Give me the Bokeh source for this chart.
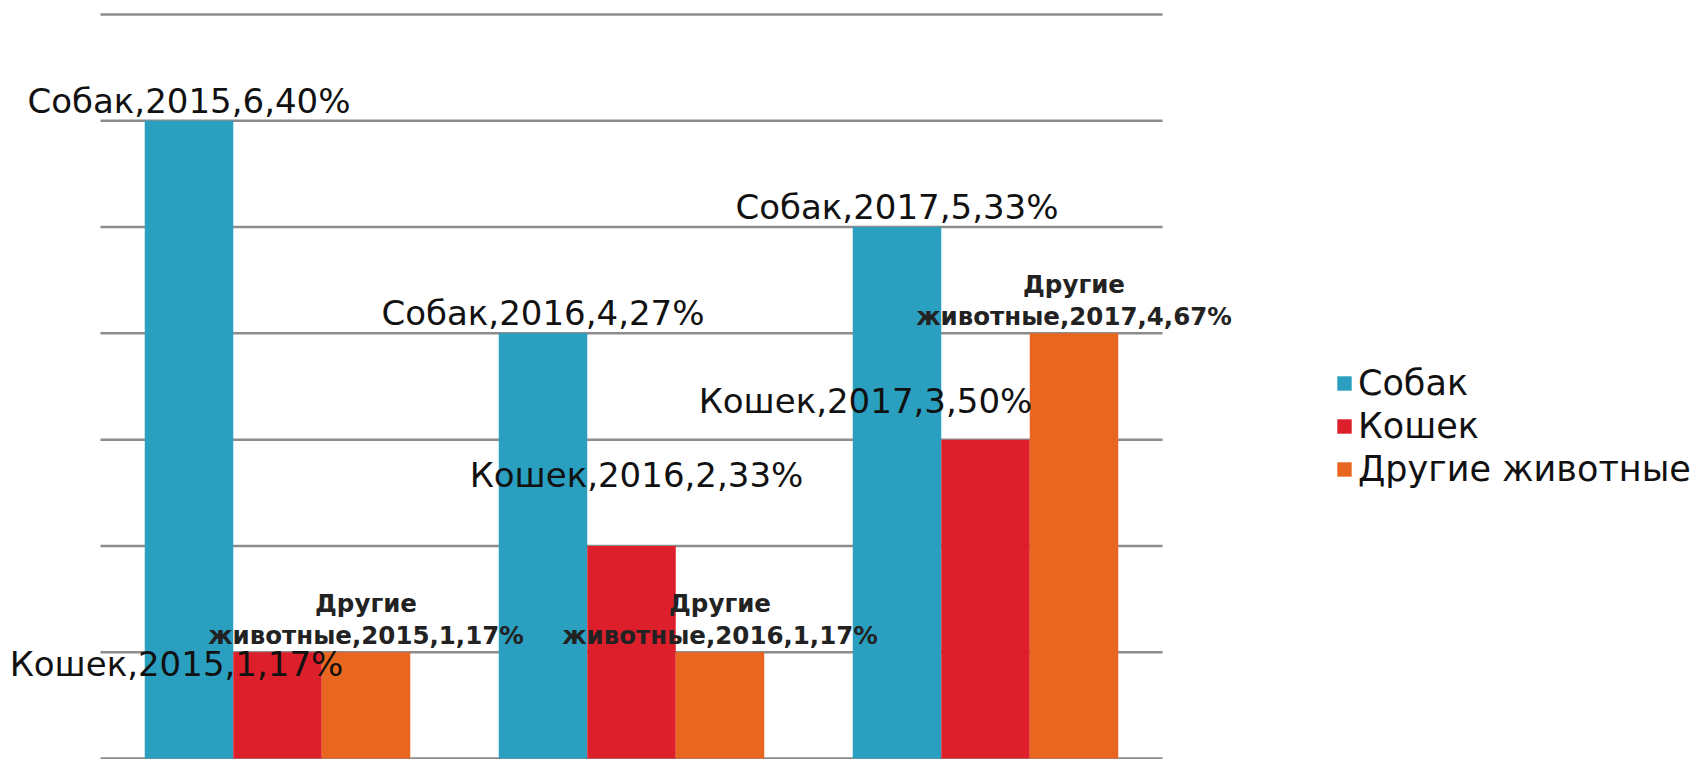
from bokeh.plotting import figure
from bokeh.models import (ColumnDataSource, Range1d, Legend, LegendItem, LabelSet)
from bokeh.core.properties import value
from bokeh.embed import file_html
from bokeh.resources import INLINE

# ---------------- data ----------------
years = ["2015", "2016", "2017"]
series = ["Собак", "Кошек", "Другие животные"]
dogs = [6, 4, 5]
cats = [1, 2, 3]
others = [1, 1, 4]
dogs_pct = [40, 27, 33]
cats_pct = [17, 33, 50]
others_pct = [17, 17, 67]
grid_ticks = [0, 1, 2, 3, 4, 5, 6, 7]

# ---------------- styles / label nudges (screen px) ----------------
colors = ["#2a9fbf", "#dc1f2a", "#e8661f"]
bar_width = 0.25
bar_offsets = [-0.25, 0.0, 0.25]
cats_dx = [-101, 5, -120]
cats_dy = [-24, 59, 27]

# category i occupies [i, i+1] on a linear scale; its centre is i + 0.5
centers = [i + 0.5 for i in range(len(years))]

src = ColumnDataSource(dict(
    year=years,
    x_dog=[c + bar_offsets[0] for c in centers],
    x_cat=[c + bar_offsets[1] for c in centers],
    x_oth=[c + bar_offsets[2] for c in centers],
    dogs=dogs, cats=cats, others=others,
    dog_lbl=[f"Собак,{y},{v},{p}%" for y, v, p in zip(years, dogs, dogs_pct)],
    cat_lbl=[f"Кошек,{y},{v},{p}%" for y, v, p in zip(years, cats, cats_pct)],
    oth_lbl1=["Другие" for _ in years],
    oth_lbl2=[f"животные,{y},{v},{p}%" for y, v, p in zip(years, others, others_pct)],
    cat_dx=cats_dx, cat_dy=cats_dy,
))

p = figure(x_range=Range1d(-0.2825, 4.4915), y_range=Range1d(-0.0094, 7.132),
           width=1690, height=759, output_backend="svg", toolbar_location=None,
           min_border_left=0, min_border_right=0, min_border_top=0, min_border_bottom=0)
p.outline_line_color = None
p.background_fill_color = "white"
p.xaxis.visible = False
p.yaxis.visible = False
p.xgrid.visible = False
p.ygrid.visible = False

# horizontal grid lines across the category area only
p.segment(x0=[0] * len(grid_ticks), x1=[len(years)] * len(grid_ticks),
          y0=grid_ticks, y1=grid_ticks, line_color="#8c8c8c", line_width=2.5)

renderers = []
for xf, f, c in zip(["x_dog", "x_cat", "x_oth"], ["dogs", "cats", "others"], colors):
    r = p.vbar(x=xf, top=f, width=bar_width, source=src, fill_color=c, line_color=None)
    renderers.append(r)

font = value("DejaVu Sans")
dog_labels = LabelSet(x="x_dog", y="dogs", text="dog_lbl", source=src,
                      text_align="center", text_baseline="alphabetic", y_offset=8,
                      text_font=font, text_font_size="34px", text_color="#111111")
cat_labels = LabelSet(x="x_cat", y="cats", text="cat_lbl", source=src,
                      text_align="center", text_baseline="alphabetic",
                      x_offset="cat_dx", y_offset="cat_dy",
                      text_font=font, text_font_size="34px", text_color="#111111")
oth_labels1 = LabelSet(x="x_oth", y="others", text="oth_lbl1", source=src,
                       text_align="center", text_baseline="alphabetic", y_offset=40,
                       text_font=font, text_font_style="bold",
                       text_font_size="24.5px", text_color="#222222")
oth_labels2 = LabelSet(x="x_oth", y="others", text="oth_lbl2", source=src,
                       text_align="center", text_baseline="alphabetic", y_offset=8,
                       text_font=font, text_font_style="bold",
                       text_font_size="24.5px", text_color="#222222")
for lab in (dog_labels, cat_labels, oth_labels1, oth_labels2):
    p.add_layout(lab)

legend = Legend(items=[LegendItem(label=s, renderers=[r]) for s, r in zip(series, renderers)],
                location=(1335, 270), orientation="vertical",
                label_text_font="DejaVu Sans", label_text_font_size="35px",
                label_text_color="#111111",
                glyph_width=18, glyph_height=18, label_standoff=5, label_height=40,
                spacing=3, padding=0, margin=0, border_line_alpha=0,
                background_fill_alpha=0)
p.add_layout(legend, "center")

open("out.html", "w").write(file_html(p, INLINE))
